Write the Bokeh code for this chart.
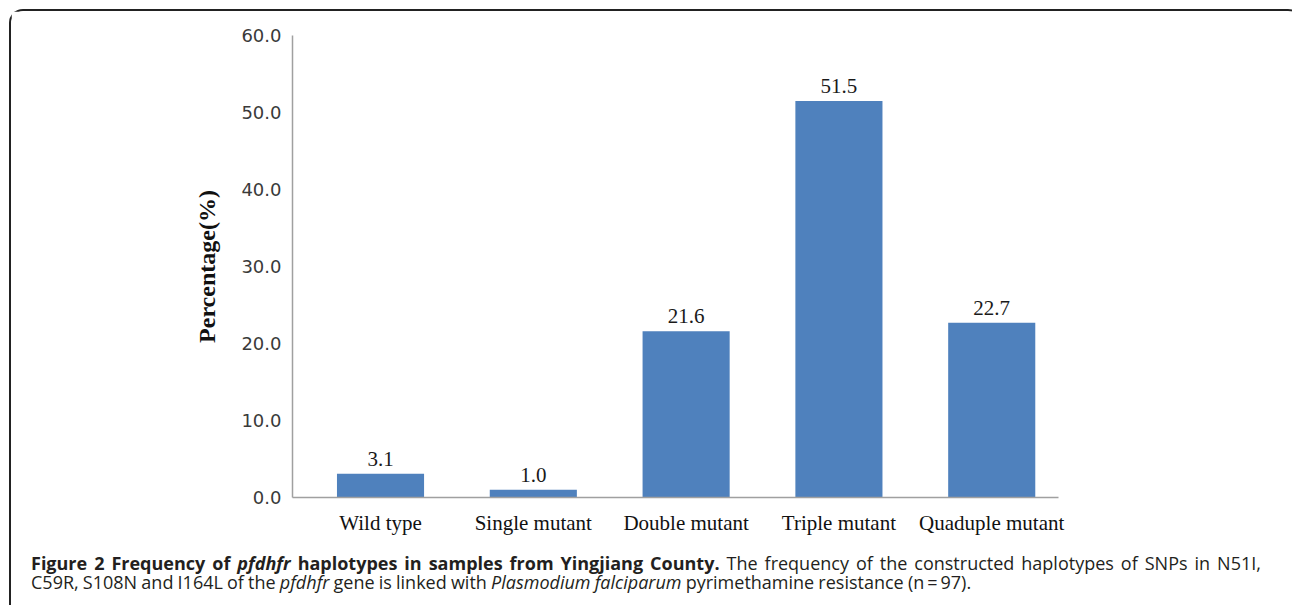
from bokeh.plotting import figure
from bokeh.models import Range1d, FixedTicker, Div, Column
from bokeh.embed import file_html
from bokeh.resources import INLINE
from bokeh.core.properties import value

# ---- data ----
categories = ["Wild type", "Single mutant", "Double mutant", "Triple mutant", "Quaduple mutant"]
percentages = [3.1, 1.0, 21.6, 51.5, 22.7]
value_labels = ["3.1", "1.0", "21.6", "51.5", "22.7"]
y_ticks = [0, 10, 20, 30, 40, 50, 60]
y_tick_labels = ["0.0", "10.0", "20.0", "30.0", "40.0", "50.0", "60.0"]

xs = list(range(len(categories)))

p = figure(width=1281, height=538,
           x_range=Range1d(-0.576, 4.437), y_range=Range1d(0, 60),
           output_backend="svg", toolbar_location=None,
           min_border_left=281, min_border_right=234,
           min_border_top=24, min_border_bottom=52)

p.vbar(x=xs, top=percentages, width=0.57, bottom=0,
       fill_color="#4f81bd", line_color=None)

p.text(x=xs, y=percentages, text=value_labels,
       text_align="center", text_baseline="alphabetic", y_offset=-15,
       text_font=value("Liberation Serif"), text_font_size="21px",
       text_color="#1a1a1a")

p.outline_line_color = None
p.xgrid.grid_line_color = None
p.ygrid.grid_line_color = None
p.background_fill_color = "white"
p.border_fill_color = "white"

# y axis
p.yaxis.ticker = FixedTicker(ticks=y_ticks)
p.yaxis.major_label_overrides = {t: l for t, l in zip(y_ticks, y_tick_labels)}
p.yaxis.major_tick_out = 0
p.yaxis.major_tick_in = 0
p.yaxis.minor_tick_out = 0
p.yaxis.minor_tick_in = 0
p.yaxis.major_label_standoff = 11
p.yaxis.major_label_text_font = "DejaVu Sans"
p.yaxis.major_label_text_font_size = "18px"
p.yaxis.major_label_text_color = "#3a3a3a"
p.yaxis.axis_line_color = "#a0a0a0"
p.yaxis.axis_line_width = 1.5
p.yaxis.axis_label = "Percentage(%)"
p.yaxis.axis_label_text_font = "Liberation Serif"
p.yaxis.axis_label_text_font_style = "bold"
p.yaxis.axis_label_text_font_size = "24px"
p.yaxis.axis_label_text_color = "#111111"
p.yaxis.axis_label_standoff = 18

# x axis
p.xaxis.ticker = FixedTicker(ticks=xs)
p.xaxis.major_label_overrides = {i: c for i, c in zip(xs, categories)}
p.xaxis.major_tick_out = 0
p.xaxis.major_tick_in = 0
p.xaxis.minor_tick_out = 0
p.xaxis.minor_tick_in = 0
p.xaxis.major_label_standoff = 13
p.xaxis.major_label_text_font = "Liberation Serif"
p.xaxis.major_label_text_font_size = "21px"
p.xaxis.major_label_text_color = "#111111"
p.xaxis.axis_line_color = "#a0a0a0"
p.xaxis.axis_line_width = 1.5

caption_html = (
    "<span style='word-spacing:2.3px'>"
    "<b>Figure 2 Frequency of <i>pfdhfr</i> haplotypes in samples from Yingjiang County.</b> "
    "The frequency of the constructed haplotypes of SNPs in N51I,</span><br>"
    "<span style='word-spacing:-0.5px'>"
    "C59R, S108N and I164L of the <i>pfdhfr</i> gene is linked with "
    "<i>Plasmodium falciparum</i> pyrimethamine resistance (n\u2009=\u200997).</span>"
)
cap = Div(text=caption_html, width=1281, height=56,
          styles={"font-family": "'Open Sans'", "font-size": "18px",
                  "line-height": "19px", "color": "#231f20",
                  "padding-left": "15px", "padding-top": "0px",
                  "white-space": "nowrap"})

layout = Column(children=[p, cap], margin=(9, 0, 0, 9), spacing=0,
                styles={"border-top": "2px solid #222222",
                        "border-left": "2px solid #222222",
                        "border-top-left-radius": "14px",
                        "border-top-right-radius": "14px"})

open("out.html", "w").write(file_html(layout, INLINE))
